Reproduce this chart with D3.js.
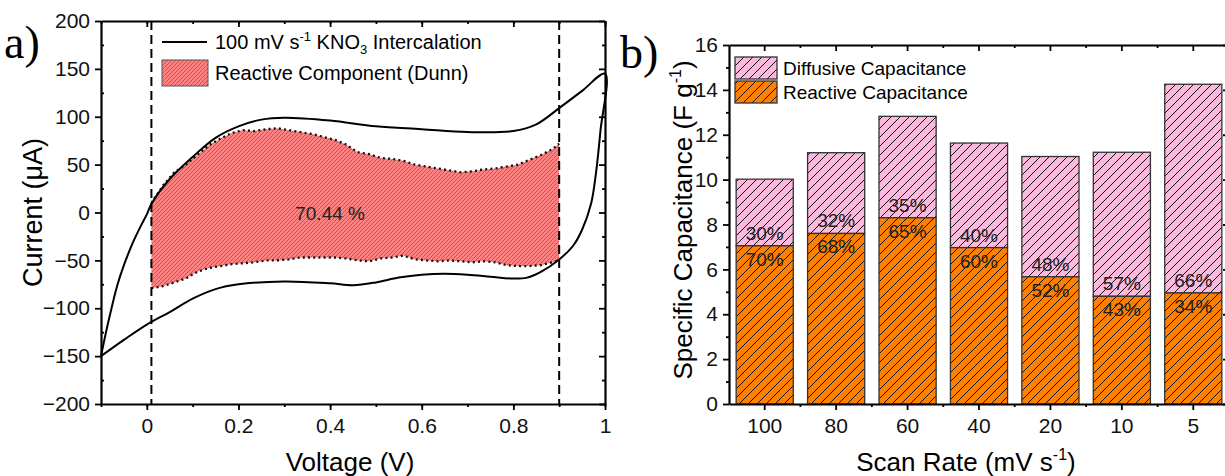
<!DOCTYPE html>
<html>
<head>
<meta charset="utf-8">
<script src="https://cdn.jsdelivr.net/npm/d3@7"></script>
<style>
  body { margin: 0; background: #fff; }
</style>
</head>
<body>
<script>
// ---------- data: panel a (CV loop) ----------
const cvUpperV = [-0.1, -0.09, -0.08, -0.065, -0.05, -0.03, -0.013, 0, 0.01, 0.05, 0.1, 0.15, 0.2, 0.25, 0.3, 0.4, 0.5, 0.6, 0.7, 0.8, 0.85, 0.9, 0.95, 1.0];
const cvUpperI = [-150, -127, -106, -77, -55, -31, -14, -2, 9, 35, 58, 78, 90, 97, 99, 96, 90, 87, 84, 85, 92, 109, 127, 145];
const cvLowerV = [1.0, 0.99, 0.98, 0.97, 0.95, 0.93, 0.9, 0.86, 0.83, 0.8, 0.75, 0.7, 0.65, 0.6, 0.55, 0.5, 0.45, 0.4, 0.3, 0.2, 0.15, 0.1, 0.05, 0, -0.05, -0.1];
const cvLowerI = [145, 85, 40, 10, -18, -35, -49, -62, -68, -69, -67, -65, -64, -65, -68, -73, -76, -74, -72, -75, -80, -90, -104, -117, -133, -150];

const dunnV = [0.01, 0.035, 0.06, 0.085, 0.11, 0.135, 0.16, 0.185, 0.21, 0.235, 0.26, 0.285, 0.31, 0.335, 0.36, 0.385, 0.41, 0.435, 0.46, 0.485, 0.51, 0.535, 0.56, 0.585, 0.61, 0.635, 0.66, 0.685, 0.71, 0.735, 0.76, 0.785, 0.81, 0.835, 0.86, 0.885, 0.9];
const dunnTop = [10, 28, 42, 50, 60, 70, 77, 83, 86, 85, 87, 88, 86, 84, 82, 79, 76, 71, 63, 61, 57, 56, 54, 50, 48, 46, 44, 42, 43, 45, 46, 48, 50, 55, 60, 66, 72];
const dunnBottom = [-79, -77, -73, -69, -62, -58, -56, -54, -53, -52, -50, -50, -49, -47, -47, -47, -47, -48, -50, -51, -48, -47, -45, -49, -50, -51, -50, -51, -52, -51, -52, -55, -56, -56, -55, -52, -50];
const windowV = [0.01, 0.9];

const xTicksA = [0, 0.2, 0.4, 0.6, 0.8, 1];
const yTicksA = [-200, -150, -100, -50, 0, 50, 100, 150, 200];

// ---------- data: panel b (stacked bars) ----------
const scanRates = ["100", "80", "60", "40", "20", "10", "5"];
const reactive = [7.05, 7.6, 8.3, 6.97, 5.67, 4.8, 4.95];
const totalCap = [10.02, 11.2, 12.82, 11.63, 11.03, 11.22, 14.25];
const reactivePct = ["70%", "68%", "65%", "60%", "52%", "43%", "34%"];
const diffusivePct = ["30%", "32%", "35%", "40%", "48%", "57%", "66%"];
const yTicksB = [0, 2, 4, 6, 8, 10, 12, 14, 16];

const W = 1225, H = 476;
const FONT = "Arial, 'Liberation Sans', sans-serif";
const SERIF = "'Liberation Serif', 'Times New Roman', serif";
const svg = d3.select("body").append("svg").attr("width", W).attr("height", H)
  .attr("font-family", FONT);

// patterns
const defs = svg.append("defs");
function hatch(id, size, bg, stroke, sw) {
  const p = defs.append("pattern").attr("id", id)
    .attr("patternUnits", "userSpaceOnUse")
    .attr("width", size).attr("height", size);
  p.append("rect").attr("width", size).attr("height", size).attr("fill", bg);
  p.append("path")
    .attr("d", `M${-size/4},${size/4} L${size/4},${-size/4} M0,${size} L${size},0 M${size*3/4},${size*5/4} L${size*5/4},${size*3/4}`)
    .attr("stroke", stroke).attr("stroke-width", sw);
}
hatch("hRed", 4, "#ff8282", "#555", 0.6);
hatch("hPink", 9, "#fbb9de", "#111", 1);
hatch("hOrange", 9, "#ff8000", "#111", 1);

// ================= panel a =================
const xA = d3.scaleLinear().domain([-0.1, 1]).range([101, 605]);
const yA = d3.scaleLinear().domain([-200, 200]).range([404, 21]);

const gA = svg.append("g");

// reactive area
const areaPts = dunnV.map((v, i) => ({ v, t: dunnTop[i], b: dunnBottom[i] }));
gA.append("path").datum(areaPts)
  .attr("d", d3.area().x(d => xA(d.v)).y0(d => yA(d.b)).y1(d => yA(d.t)))
  .attr("fill", "url(#hRed)");
[dunnTop, dunnBottom].forEach(arr => {
  gA.append("path").datum(dunnV.map((v, i) => [v, arr[i]]))
    .attr("d", d3.line().x(d => xA(d[0])).y(d => yA(d[1])))
    .attr("fill", "none").attr("stroke", "#111")
    .attr("stroke-width", 2.3).attr("stroke-dasharray", "2 3.2");
});

// CV loop
const loop = cvUpperV.map((v, i) => [v, cvUpperI[i]])
  .concat(cvLowerV.slice(1).map((v, i) => [v, cvLowerI[i + 1]]));
gA.append("path").datum(loop)
  .attr("d", d3.line().x(d => xA(d[0])).y(d => yA(d[1])).curve(d3.curveCatmullRom.alpha(0.5)))
  .attr("fill", "none").attr("stroke", "#000").attr("stroke-width", 2);

// dashed window lines
gA.selectAll(".win").data(windowV).enter().append("line")
  .attr("x1", d => xA(d)).attr("x2", d => xA(d))
  .attr("y1", yA(200)).attr("y2", yA(-200))
  .attr("stroke", "#000").attr("stroke-width", 2).attr("stroke-dasharray", "9 5");

gA.append("text").attr("x", xA(0.4)).attr("y", yA(0) + 7)
  .attr("text-anchor", "middle").attr("font-size", 19).attr("fill", "#222").text("70.44 %");

// axes panel a
function styleAxis(g) {
  g.select(".domain").attr("stroke-width", 2.2);
  g.selectAll(".tick line").attr("stroke-width", 1.8);
  g.selectAll(".tick text").attr("font-size", 21).attr("font-family", FONT).attr("fill", "#111");
}
const minorXA = d3.range(-0.1, 1.0001, 0.1).map(d => +d.toFixed(2));
const minorYA = d3.range(-175, 200, 50);

let ax = gA.append("g").attr("transform", `translate(0,${yA(-200)})`)
  .call(d3.axisBottom(xA).tickValues(xTicksA).tickSize(6).tickSizeOuter(0).tickPadding(8).tickFormat(d3.format("")));
styleAxis(ax);
ax = gA.append("g").attr("transform", `translate(0,${yA(-200)})`)
  .call(d3.axisBottom(xA).tickValues(minorXA).tickSize(3).tickFormat(""));
ax.select(".domain").remove(); ax.selectAll("line").attr("stroke-width", 1.8);
ax = gA.append("g").attr("transform", `translate(0,${yA(200)})`)
  .call(d3.axisBottom(xA).tickValues(xTicksA).tickSize(6).tickSizeOuter(0).tickFormat(""));
styleAxis(ax);
ax = gA.append("g").attr("transform", `translate(0,${yA(200)})`)
  .call(d3.axisBottom(xA).tickValues(minorXA).tickSize(3).tickFormat(""));
ax.select(".domain").remove(); ax.selectAll("line").attr("stroke-width", 1.8);

ax = gA.append("g").attr("transform", `translate(${xA(-0.1)},0)`)
  .call(d3.axisLeft(yA).tickValues(yTicksA).tickSize(6).tickSizeOuter(0).tickPadding(5));
styleAxis(ax);
ax = gA.append("g").attr("transform", `translate(${xA(-0.1)},0)`)
  .call(d3.axisRight(yA).tickValues(minorYA).tickSize(3).tickFormat(""));
ax.select(".domain").remove(); ax.selectAll("line").attr("stroke-width", 1.8);
ax = gA.append("g").attr("transform", `translate(${xA(1)},0)`)
  .call(d3.axisLeft(yA).tickValues(yTicksA).tickSize(6).tickSizeOuter(0).tickFormat(""));
styleAxis(ax);
ax = gA.append("g").attr("transform", `translate(${xA(1)},0)`)
  .call(d3.axisLeft(yA).tickValues(minorYA).tickSize(3).tickFormat(""));
ax.select(".domain").remove(); ax.selectAll("line").attr("stroke-width", 1.8);

gA.append("text").attr("x", 350).attr("y", 471).attr("text-anchor", "middle")
  .attr("font-size", 26).text("Voltage (V)");
gA.append("text").attr("transform", `translate(42,${yA(0)}) rotate(-90)`)
  .attr("text-anchor", "middle").attr("font-size", 27).text("Current (\u03BCA)");
gA.append("text").attr("x", 4).attr("y", 58).attr("font-family", SERIF)
  .attr("font-size", 46).text("a)");

// legend panel a
gA.append("line").attr("x1", 162).attr("x2", 207).attr("y1", 42).attr("y2", 42)
  .attr("stroke", "#000").attr("stroke-width", 2);
const lt = gA.append("text").attr("x", 215).attr("y", 49).attr("font-size", 20);
lt.append("tspan").text("100 mV s");
lt.append("tspan").attr("font-size", 13).attr("dy", -8).text("-1");
lt.append("tspan").attr("dy", 8).text(" KNO");
lt.append("tspan").attr("font-size", 13).attr("dy", 5).text("3");
lt.append("tspan").attr("dy", -5).text(" Intercalation");
gA.append("rect").attr("x", 162).attr("y", 60).attr("width", 46).attr("height", 26)
  .attr("fill", "url(#hRed)").attr("stroke", "#555").attr("stroke-width", 1);
gA.append("text").attr("x", 215).attr("y", 80).attr("font-size", 20).text("Reactive Component (Dunn)");

// ================= panel b =================
const xB = d3.scaleBand().domain(scanRates).range([729, 1229]).paddingInner(0.2).paddingOuter(0.1);
const yB = d3.scaleLinear().domain([0, 16]).range([404, 45]);
const gB = svg.append("g");

const barData = scanRates.map((s, i) => ({ s, r: reactive[i], t: totalCap[i], rp: reactivePct[i], dp: diffusivePct[i] }));

gB.selectAll(".diff").data(barData).enter().append("rect")
  .attr("x", d => xB(d.s)).attr("width", xB.bandwidth())
  .attr("y", d => yB(d.t)).attr("height", d => yB(d.r) - yB(d.t))
  .attr("fill", "url(#hPink)").attr("stroke", "#333").attr("stroke-width", 1.3);
gB.selectAll(".reac").data(barData).enter().append("rect")
  .attr("x", d => xB(d.s)).attr("width", xB.bandwidth())
  .attr("y", d => yB(d.r)).attr("height", d => yB(0) - yB(d.r))
  .attr("fill", "url(#hOrange)").attr("stroke", "#333").attr("stroke-width", 1.3);

gB.selectAll(".dp").data(barData).enter().append("text")
  .attr("x", d => xB(d.s) + xB.bandwidth() / 2).attr("y", d => yB(d.r) - 6)
  .attr("text-anchor", "middle").attr("font-size", 19).attr("fill", "#222").text(d => d.dp);
gB.selectAll(".rp").data(barData).enter().append("text")
  .attr("x", d => xB(d.s) + xB.bandwidth() / 2).attr("y", d => yB(d.r) + 20)
  .attr("text-anchor", "middle").attr("font-size", 19).attr("fill", "#222").text(d => d.rp);

// axes panel b
const bounds = scanRates.slice(0, -1).map(s => xB(s) + xB.step() - xB.step() * 0.1);
const xB0 = 729, xB1 = 1229;
ax = gB.append("g").attr("transform", `translate(0,${yB(0)})`)
  .call(d3.axisBottom(xB).tickSize(6).tickSizeOuter(0).tickPadding(8));
styleAxis(ax);
gB.selectAll(".bminor").data(bounds).enter().append("line")
  .attr("x1", d => d).attr("x2", d => d).attr("y1", yB(0)).attr("y2", yB(0) + 3)
  .attr("stroke", "#000").attr("stroke-width", 1.8);
ax = gB.append("g").attr("transform", `translate(0,${yB(16)})`)
  .call(d3.axisBottom(xB).tickSize(6).tickSizeOuter(0).tickFormat(""));
styleAxis(ax);
gB.selectAll(".tminor").data(bounds).enter().append("line")
  .attr("x1", d => d).attr("x2", d => d).attr("y1", yB(16)).attr("y2", yB(16) + 3)
  .attr("stroke", "#000").attr("stroke-width", 1.8);
ax = gB.append("g").attr("transform", `translate(${xB0},0)`)
  .call(d3.axisLeft(yB).tickValues(yTicksB).tickSize(6).tickSizeOuter(0).tickPadding(5));
styleAxis(ax);
ax = gB.append("g").attr("transform", `translate(${xB0},0)`)
  .call(d3.axisLeft(yB).tickValues(d3.range(1, 16, 2)).tickSize(3).tickFormat(""));
ax.select(".domain").remove(); ax.selectAll("line").attr("stroke-width", 1.8);
ax = gB.append("g").attr("transform", `translate(${xB1},0)`)
  .call(d3.axisLeft(yB).tickValues(yTicksB).tickSize(6).tickSizeOuter(0).tickFormat(""));
styleAxis(ax);

// legend panel b
gB.append("rect").attr("x", 735).attr("y", 57).attr("width", 42).attr("height", 22)
  .attr("fill", "url(#hPink)").attr("stroke", "#333").attr("stroke-width", 1.3);
gB.append("rect").attr("x", 735).attr("y", 81).attr("width", 42).attr("height", 22)
  .attr("fill", "url(#hOrange)").attr("stroke", "#333").attr("stroke-width", 1.3);
gB.append("text").attr("x", 783).attr("y", 75).attr("font-size", 19).text("Diffusive Capacitance");
gB.append("text").attr("x", 783).attr("y", 99).attr("font-size", 19).text("Reactive Capacitance");

const xt = gB.append("text").attr("x", 966).attr("y", 471).attr("text-anchor", "middle").attr("font-size", 26);
xt.append("tspan").text("Scan Rate (mV s");
xt.append("tspan").attr("font-size", 16).attr("dy", -11).text("-1");
xt.append("tspan").attr("dy", 11).text(")");
const yt = gB.append("text").attr("transform", `translate(692,220) rotate(-90)`)
  .attr("text-anchor", "middle").attr("font-size", 26);
yt.append("tspan").text("Specific Capacitance (F g");
yt.append("tspan").attr("font-size", 16).attr("dy", -11).text("-1");
yt.append("tspan").attr("dy", 11).text(")");
gB.append("text").attr("x", 620).attr("y", 68).attr("font-family", SERIF)
  .attr("font-size", 46).text("b)");
</script>
</body>
</html>
